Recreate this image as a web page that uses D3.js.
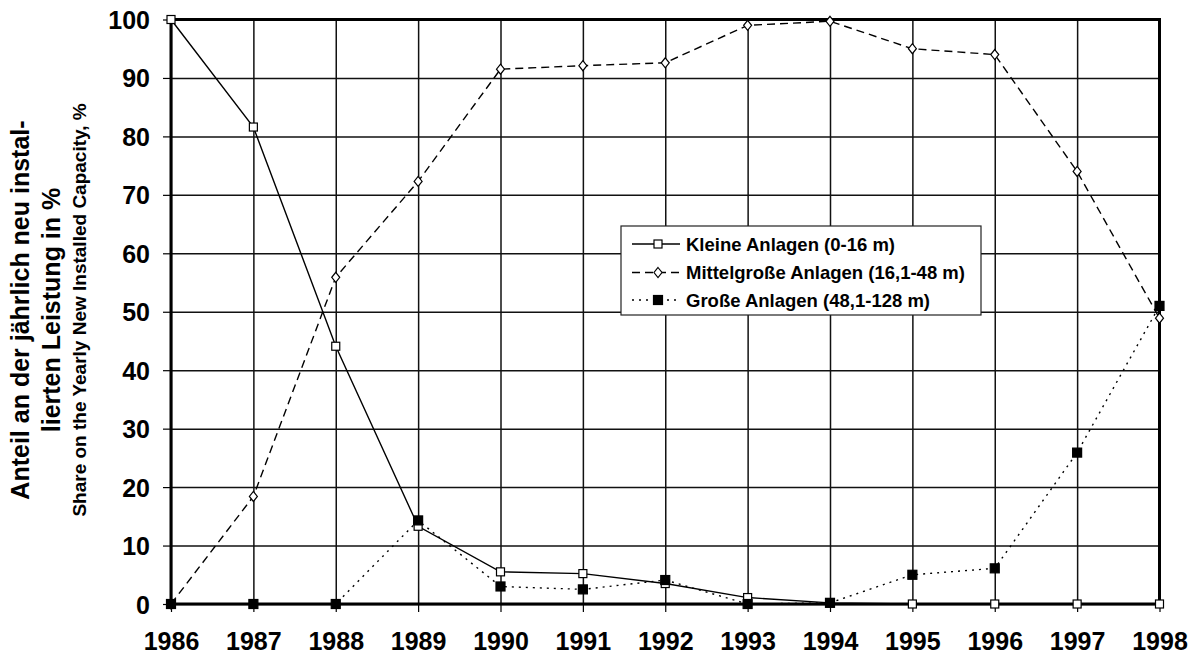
<!DOCTYPE html>
<html>
<head>
<meta charset="utf-8">
<script src="https://cdn.jsdelivr.net/npm/d3@7"></script>
<style>
  body { margin: 0; background: #fff; }
  svg { display: block; font-family: "Liberation Sans", Arial, sans-serif; font-weight: bold; }
</style>
</head>
<body>
<script>
const years = [1986, 1987, 1988, 1989, 1990, 1991, 1992, 1993, 1994, 1995, 1996, 1997, 1998];
const kleine = [100, 81.6, 44.1, 13.3, 5.5, 5.2, 3.5, 1.1, 0.2, 0, 0, 0, 0];
const mittel = [0, 18.4, 55.9, 72.3, 91.5, 92.1, 92.6, 99.0, 99.7, 95.0, 94.0, 74.0, 48.9];
const gross = [0, 0, 0, 14.3, 3.0, 2.5, 4.1, 0, 0.2, 5.0, 6.1, 25.9, 51.0];
const yTicks = [0, 10, 20, 30, 40, 50, 60, 70, 80, 90, 100];
const legendLabels = ['Kleine Anlagen (0-16 m)', 'Mittelgroße Anlagen (16,1-48 m)', 'Große Anlagen (48,1-128 m)'];
const titleLines = ['Anteil an der jährlich neu instal-', 'lierten Leistung in %', 'Share on the Yearly New Installed Capacity, %'];

const width = 1195, height = 654;
const margin = {top: 19.5, left: 171, right: 35.5, bottom: 50};

const x = d3.scaleLinear().domain([1986, 1998]).range([margin.left, width - margin.right]);
const y = d3.scaleLinear().domain([0, 100]).range([height - margin.bottom, margin.top]);

const svg = d3.select('body').append('svg')
  .attr('width', width)
  .attr('height', height);

// grid
svg.append('g')
  .attr('transform', `translate(0, ${y(0)})`)
  .call(d3.axisBottom(x).tickValues(years).tickSize(-(y(0) - y(100))).tickFormat(''))
  .call(g => g.select('.domain').remove())
  .call(g => g.selectAll('line').attr('stroke', '#111').attr('stroke-width', 1.5));

svg.append('g')
  .attr('transform', `translate(${x(1986)}, 0)`)
  .call(d3.axisLeft(y).tickValues(yTicks).tickSize(-(x(1998) - x(1986))).tickFormat(''))
  .call(g => g.select('.domain').remove())
  .call(g => g.selectAll('line').attr('stroke', '#111').attr('stroke-width', 1.5));

// outer ticks + labels
svg.append('g')
  .attr('transform', `translate(0, ${y(0)})`)
  .call(d3.axisBottom(x).tickValues(years).tickSize(8).tickPadding(20).tickFormat(d3.format('d')))
  .call(g => g.select('.domain').remove())
  .call(g => g.selectAll('line').attr('stroke', '#000').attr('stroke-width', 1.2))
  .call(g => g.selectAll('text').attr('fill', '#000').style('font-size', '25px').style('font-weight', 'bold'));

svg.append('g')
  .attr('transform', `translate(${x(1986)}, 0)`)
  .call(d3.axisLeft(y).tickValues(yTicks).tickSize(8).tickPadding(13))
  .call(g => g.select('.domain').remove())
  .call(g => g.selectAll('line').attr('stroke', '#000').attr('stroke-width', 1.2))
  .call(g => g.selectAll('text').attr('fill', '#000').attr('dy', '0.36em').style('font-size', '25px').style('font-weight', 'bold'));

// frame
svg.append('rect')
  .attr('x', x(1986)).attr('y', y(100))
  .attr('width', x(1998) - x(1986)).attr('height', y(0) - y(100))
  .attr('fill', 'none').attr('stroke', '#000').attr('stroke-width', 3);

// y title
const title = svg.append('g').attr('transform', 'translate(0, 310) rotate(-90)');
[[29, 25], [60, 25], [86, 19]].forEach(([bx, size], i) => {
  title.append('text')
    .attr('x', 0).attr('y', bx)
    .attr('text-anchor', 'middle')
    .style('font-size', size + 'px')
    .text(titleLines[i]);
});

const series = [
  {values: kleine, dash: null, marker: 'square', fill: '#fff'},
  {values: mittel, dash: '8,5', marker: 'diamond', fill: '#fff'},
  {values: gross, dash: '2,5', marker: 'square', fill: '#000'}
];

const line = d3.line().x((d, i) => x(years[i])).y(d => y(d));

function drawMarker(g, s, cx, cy) {
  if (s.marker === 'diamond') {
    g.append('path')
      .attr('d', `M${cx},${cy - 5}L${cx + 4},${cy}L${cx},${cy + 5}L${cx - 4},${cy}Z`)
      .attr('fill', s.fill).attr('stroke', '#000').attr('stroke-width', 1.2);
  } else {
    const r = s.fill === '#000' ? 4.5 : 4;
    g.append('rect')
      .attr('x', cx - r).attr('y', cy - r).attr('width', 2 * r).attr('height', 2 * r)
      .attr('fill', s.fill).attr('stroke', '#000').attr('stroke-width', 1.2);
  }
}

series.forEach(s => {
  svg.append('path')
    .datum(s.values)
    .attr('d', line)
    .attr('fill', 'none')
    .attr('stroke', '#000')
    .attr('stroke-width', 1.4)
    .attr('stroke-dasharray', s.dash);
});

series.forEach(s => {
  const g = svg.append('g');
  s.values.forEach((v, i) => drawMarker(g, s, x(years[i]), y(v)));
});

// legend
const legend = svg.append('g');
legend.append('rect')
  .attr('x', 621).attr('y', 226).attr('width', 360).attr('height', 89)
  .attr('fill', '#fff').attr('stroke', '#222').attr('stroke-width', 1.2);

[244, 272.5, 300].forEach((ry, i) => {
  const s = series[i];
  legend.append('line')
    .attr('x1', 632).attr('x2', 680).attr('y1', ry).attr('y2', ry)
    .attr('stroke', '#000').attr('stroke-width', 1.4)
    .attr('stroke-dasharray', s.dash);
  drawMarker(legend, s, 658, ry);
  legend.append('text')
    .attr('x', 686).attr('y', ry).attr('dy', '0.36em')
    .style('font-size', '18.5px')
    .text(legendLabels[i]);
});
</script>
</body>
</html>
